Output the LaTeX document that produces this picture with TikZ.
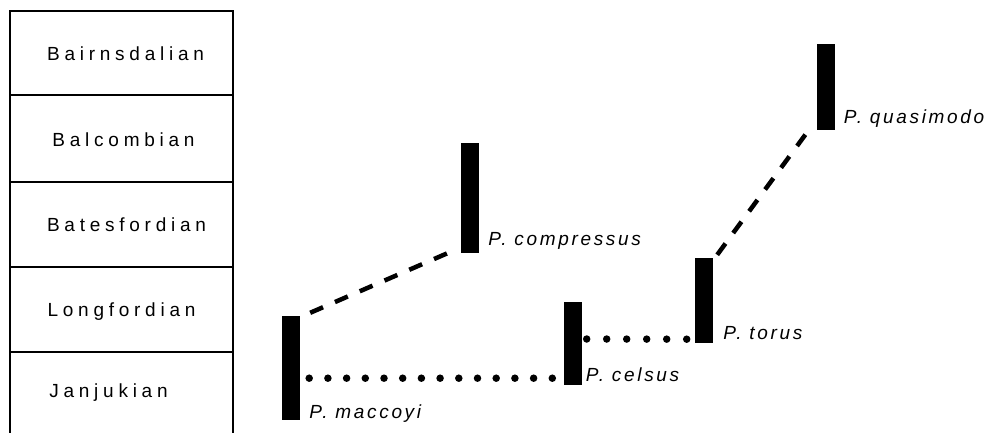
\documentclass[tikz,border=0pt]{standalone}
\usepackage{fontspec}
\setmainfont{Liberation Sans}
\newfontfamily\stagefont[LetterSpace=25]{Liberation Sans}
\newfontfamily\taxonfont[LetterSpace=14]{Liberation Sans}
\begin{document}
\begin{tikzpicture}[x=1pt,y=-1pt,
  stagerow/.style={draw, line width=1.4pt, minimum width=223pt, inner sep=0pt},
  stagename/.style={font=\stagefont\fontsize{19}{22}\selectfont, inner sep=0pt},
  rangebar/.style={fill=black, draw=none, minimum width=18pt, inner sep=0pt},
  taxon/.style={font=\taxonfont\itshape\fontsize{19}{22}\selectfont, inner sep=0pt, anchor=west},
  dashline/.style={line width=4.5pt, dash pattern=on 14pt off 13pt},
  dotline/.style={line width=7.5pt, line cap=round, dash pattern=on 0pt off 18.7pt}]
\useasboundingbox (0,0) rectangle (996,433);

% stratigraphic column
\node[stagerow, minimum height=84pt] (bai) at (121.5,53) {};
\node[stagerow, minimum height=87pt] (bal) at (121.5,138.5) {};
\node[stagerow, minimum height=85pt] (bat) at (121.5,224.5) {};
\node[stagerow, minimum height=85pt] (lon) at (121.5,309.5) {};
\node[stagerow, minimum height=88pt] (jan) at (121.5,396) {};

\node[stagename] (tbai) at ([shift={(4,1)}]bai.center) {Bairnsdalian};
\node[stagename] (tbal) at ([shift={(2,1.5)}]bal.center) {Balcombian};
\node[stagename] (tbat) at ([shift={(5,0.5)}]bat.center) {Batesfordian};
\node[stagename] (tlon) at ([shift={(0,2.5)}]lon.center) {Longfordian};
\node[stagename] (tjan) at ([shift={(-13,-3)}]jan.center) {Janjukian};

% species ranges
\node[rangebar, minimum height=104pt] (mac) at (291,368) {};
\node[rangebar, minimum height=110pt] (comp) at (470,198) {};
\node[rangebar, minimum height=83pt] (cel) at (572.5,343.5) {};
\node[rangebar, minimum height=85pt] (tor) at (704,300.5) {};
\node[rangebar, minimum height=86pt] (quas) at (825.5,87) {};

% species names
\node[taxon] (lmac) at ([shift={(9,-7)}]mac.south east) {P. maccoyi};
\node[taxon] (lcomp) at ([shift={(9,-12)}]comp.south east) {P. compressus};
\node[taxon] (lcel) at ([shift={(4,-10)}]cel.south east) {P. celsus};
\node[taxon] (ltor) at ([shift={(10,-10)}]tor.south east) {P. torus};
\node[taxon] (lquas) at ([shift={(9,-12)}]quas.south east) {P. quasimodo};

% inferred relationships
\draw[dashline] ([shift={(10,-3)}]mac.north east) -- ([shift={(-11,-1)}]comp.south west);
\draw[dashline] ([shift={(4,-3)}]tor.north east) -- ([shift={(-4,-5)}]quas.south west);
\draw[dotline] ([shift={(9,-42)}]mac.south east) -- ([shift={(-11,-7)}]cel.south west);
\draw[dotline, dash pattern=on 0pt off 20pt] ([shift={(5,-4.5)}]cel.east) -- ([shift={(-8,-4)}]tor.south west);
\end{tikzpicture}
\end{document}
